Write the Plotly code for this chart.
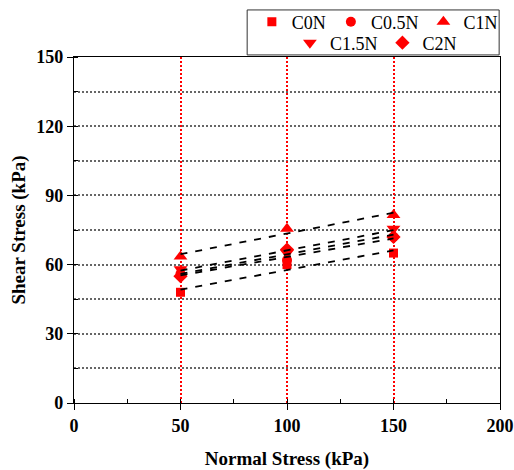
import numpy as np
import plotly.graph_objects as go

normal_stress = [50, 100, 150]
series_names = ["C0N", "C0.5N", "C1N", "C1.5N", "C2N"]
c0n = [48.0, 60.0, 65.0]
c05n = [56.0, 62.0, 72.0]
c1n = [63.5, 75.5, 81.5]
c15n = [58.0, 65.0, 75.5]
c2n = [55.0, 66.5, 72.0]
x_ticks = [0, 50, 100, 150, 200]
y_ticks = [0, 30, 60, 90, 120, 150]

series = [c0n, c05n, c1n, c15n, c2n]
symbols = ["square", "circle", "triangle-up", "triangle-down", "diamond"]
sizes = [9, 10, 12, 12, 11]
legends = ["legend", "legend", "legend", "legend2", "legend2"]

FONT = "Liberation Serif, Times New Roman, serif"
fig = go.Figure()

for name, ys, sym, sz, lg in zip(series_names, series, symbols, sizes, legends):
    fig.add_trace(go.Scatter(
        x=normal_stress, y=ys, mode="markers", name=name, legend=lg,
        marker=dict(symbol=sym, size=sz, color="#ff0000", line=dict(width=0)),
    ))

for ys in series:
    k, b = np.polyfit(normal_stress, ys, 1)
    xs = np.array([normal_stress[0], normal_stress[-1]])
    fig.add_trace(go.Scatter(
        x=xs, y=k * xs + b, mode="lines", showlegend=False, hoverinfo="skip",
        line=dict(color="black", width=1.8, dash="7px,8px"),
    ))

fig.add_shape(type="rect", xref="paper", yref="paper",
              x0=0.4065, x1=0.998, y0=1.006, y1=1.136,
              line=dict(color="#333333", width=1), fillcolor="rgba(0,0,0,0)")

fig.update_layout(
    width=514, height=470,
    margin=dict(l=74, r=14, t=57, b=67, autoexpand=False),
    paper_bgcolor="white", plot_bgcolor="white",
    font=dict(family=FONT, size=18, color="black"),
    legend=dict(orientation="h", xref="container", yref="container",
                x=0.49, xanchor="left", y=0.953, yanchor="middle",
                bgcolor="rgba(0,0,0,0)", borderwidth=0, font=dict(family=FONT, size=18),
                itemclick=False, tracegroupgap=0),
    legend2=dict(orientation="h", xref="container", yref="container",
                 x=0.564, xanchor="left", y=0.9085, yanchor="middle",
                 bgcolor="rgba(0,0,0,0)", borderwidth=0, font=dict(family=FONT, size=18),
                 itemclick=False),
    xaxis=dict(
        range=[0, 200], tickvals=x_ticks, ticktext=[str(v) for v in x_ticks],
        showline=True, linecolor="black", linewidth=1.2, mirror=True,
        ticks="outside", ticklen=6, tickcolor="black",
        showgrid=True, gridcolor="#ff0000", griddash="2px,2px", gridwidth=1.5,
        zeroline=False,
        minor=dict(dtick=25, tick0=0, ticks="inside", ticklen=4, tickcolor="black", showgrid=False),
        tickfont=dict(family=FONT, size=18, color="black", weight="bold"),
        title=dict(text="<b>Normal Stress (kPa)</b>", font=dict(family=FONT, size=19), standoff=16),
    ),
    yaxis=dict(
        range=[0, 150], tickvals=y_ticks, ticktext=[str(v) for v in y_ticks],
        showline=True, linecolor="black", linewidth=1.2, mirror=True,
        ticks="outside", ticklen=6, tickcolor="black",
        showgrid=False, zeroline=False,
        minor=dict(dtick=15, tick0=0, ticks="inside", ticklen=4, tickcolor="black",
                   showgrid=True, gridcolor="#666666", griddash="2px,2px", gridwidth=1.5),
        tickfont=dict(family=FONT, size=18, color="black", weight="bold"),
        title=dict(text="<b>Shear Stress (kPa)</b>", font=dict(family=FONT, size=19), standoff=5),
    ),
)

fig.write_html("out.html")
